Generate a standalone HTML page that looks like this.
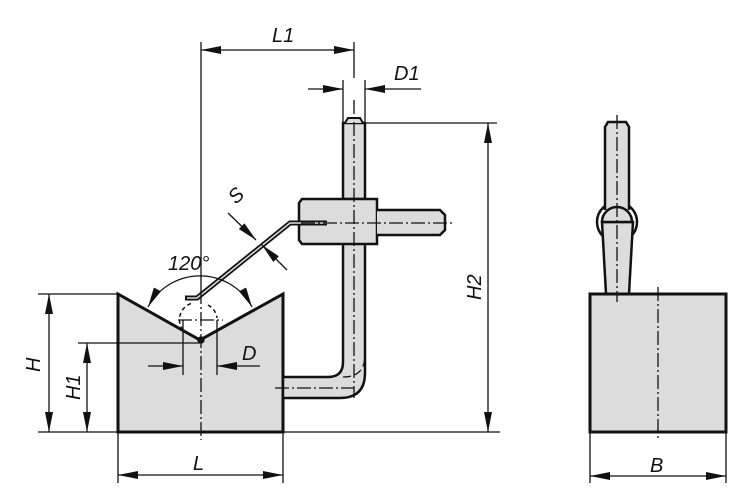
<!DOCTYPE html>
<html><head><style>body{margin:0;background:#fff}svg{display:block}text{font-family:"Liberation Sans",sans-serif;font-style:italic;font-size:20px;fill:#111}</style></head><body>
<svg width="750" height="501" viewBox="0 0 750 501" xmlns="http://www.w3.org/2000/svg">
<defs>
<marker id="a" viewBox="0 0 20 8" refX="20" refY="4" markerWidth="20" markerHeight="8" markerUnits="userSpaceOnUse" orient="auto-start-reverse"><path d="M0,0L20,4L0,8z" fill="#111"/></marker>
</defs>
<g stroke="#111" fill="none" stroke-width="1.3">
<path d="M118,294 L200,340 L283,294 L283,432 L118,432 Z" fill="#dcdcdc" stroke-width="3"/>
<path d="M343,244 L343,362 Q343,377 328,377 L283,377 L283,398 L340,398 Q365,398 365,373 L365,244" fill="#dcdcdc" stroke-width="2.5"/>
<path d="M343,123 L343,199 L365,199 L365,123 Z" fill="#dcdcdc" stroke-width="2.5"/>
<path d="M345,123 L348,118 L360,118 L363,123" fill="#dcdcdc" stroke-width="2"/>
<path d="M299,203 L302,199 L377,199 L377,244 L302,244 L299,240 Z" fill="#dcdcdc" stroke-width="2.5"/>
<path d="M377,210 L440,210 L445,215 L445,230 L440,235 L377,235" fill="#dcdcdc" stroke-width="2.5"/>
<path d="M327,223 L290,223 L197,298 L185,298" stroke-width="5"/>
<path d="M327,223 L290,223 L197,298 L187,298" stroke="#dcdcdc" stroke-width="1.5"/>
<g stroke-dasharray="14,3,2,3" stroke-width="1.3">
<line x1="354" y1="100" x2="354" y2="398"/>
<line x1="301" y1="223" x2="452" y2="223"/>
<line x1="275" y1="388" x2="354" y2="388"/>
<line x1="201" y1="290" x2="201" y2="440"/>
<line x1="178" y1="320" x2="223" y2="320"/>
</g>
<path d="M343,377 Q365,377 365,355" stroke-dasharray="8,4" stroke-width="1.3"/>
<path d="M183,330 A17,17 0 0 1 193,303 M208,305 A17,17 0 0 1 217,318" stroke-dasharray="4,3" stroke-width="1.5"/>
<circle cx="201" cy="340" r="3" fill="#111"/>
<path d="M148,307 A59,59 0 0 1 252,307" marker-start="url(#a)" marker-end="url(#a)"/>
<line x1="38" y1="294" x2="118" y2="294"/>
<line x1="38" y1="432" x2="500" y2="432"/>
<line x1="49" y1="294" x2="49" y2="432" marker-start="url(#a)" marker-end="url(#a)"/>
<line x1="78" y1="343" x2="200" y2="343"/>
<line x1="87" y1="343" x2="87" y2="432" marker-start="url(#a)" marker-end="url(#a)"/>
<line x1="118" y1="432" x2="118" y2="483"/>
<line x1="283" y1="398" x2="283" y2="483"/>
<line x1="118" y1="475" x2="283" y2="475" marker-start="url(#a)" marker-end="url(#a)"/>
<line x1="183" y1="320" x2="183" y2="375"/>
<line x1="217" y1="320" x2="217" y2="375"/>
<line x1="148" y1="366" x2="183" y2="366" marker-end="url(#a)"/>
<line x1="260" y1="366" x2="217" y2="366" marker-end="url(#a)"/>
<line x1="201" y1="42" x2="201" y2="290"/>
<line x1="354" y1="42" x2="354" y2="78"/>
<line x1="201" y1="50" x2="354" y2="50" marker-start="url(#a)" marker-end="url(#a)"/>
<line x1="343" y1="80" x2="343" y2="123"/>
<line x1="365" y1="80" x2="365" y2="123"/>
<line x1="308" y1="89" x2="343" y2="89" marker-end="url(#a)"/>
<line x1="421" y1="89" x2="365" y2="89" marker-end="url(#a)"/>
<line x1="365" y1="123" x2="497" y2="123"/>
<line x1="488" y1="123" x2="488" y2="432" marker-start="url(#a)" marker-end="url(#a)"/>
<line x1="228" y1="213" x2="256" y2="240" marker-end="url(#a)"/>
<line x1="287" y1="270" x2="262" y2="245" marker-end="url(#a)"/>
<!-- right view -->
<circle cx="617" cy="222" r="20" fill="#fff" stroke-width="2.5"/>
<path d="M605,210 L605,127 L608,122 L626,122 L629,127 L629,210" fill="#dcdcdc" stroke-width="2.5"/>
<path d="M602,222 L606,294 L629,294 L633,222 Z" fill="#dcdcdc" stroke-width="2.5"/>
<path d="M602,222 A15,15 0 0 1 632,222 Z" fill="#dcdcdc" stroke-width="2.5"/>
<rect x="590" y="294" width="136" height="138" fill="#dcdcdc" stroke-width="3"/>
<line x1="590" y1="432" x2="590" y2="483"/>
<line x1="726" y1="432" x2="726" y2="483"/>
<line x1="590" y1="476" x2="726" y2="476" marker-start="url(#a)" marker-end="url(#a)"/>
<g stroke-dasharray="14,3,2,3" stroke-width="1.3">
<line x1="658" y1="287" x2="658" y2="440"/>
<line x1="617" y1="115" x2="617" y2="302"/>
</g>
</g>
<text x="272" y="42">L1</text>
<text x="394" y="80">D1</text>
<text x="168" y="270">120°</text>
<text x="242" y="360">D</text>
<text x="193" y="470">L</text>
<text x="650" y="472">B</text>
<text transform="translate(40,372) rotate(-90)">H</text>
<text transform="translate(80,400) rotate(-90)">H1</text>
<text transform="translate(481,300) rotate(-90)">H2</text>
<text transform="translate(236,205) rotate(-45)">S</text>
</svg>
</body></html>
